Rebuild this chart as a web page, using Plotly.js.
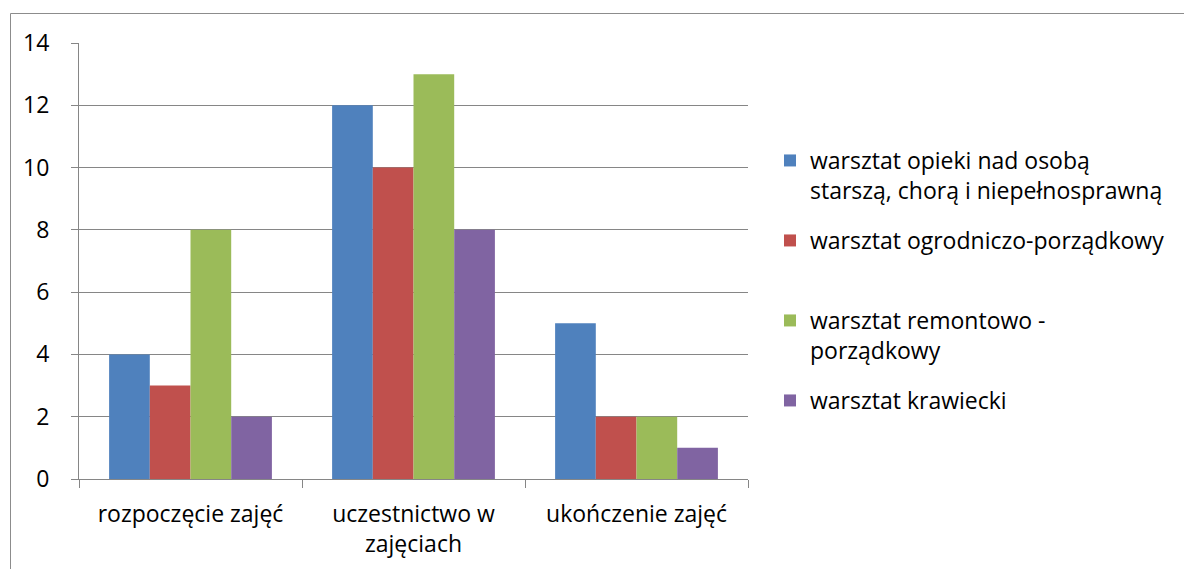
<!DOCTYPE html>
<html>
<head>
<meta charset="utf-8">
<script src="https://cdn.plot.ly/plotly-3.0.1.min.js"></script>
<style>html,body{margin:0;padding:0;background:#fff;}#chart{width:1184px;height:569px;}</style>
</head>
<body>
<div id="chart"></div>
<script>
const categories = ['rozpoczęcie zajęć', 'uczestnictwo w zajęciach', 'ukończenie zajęć'];
const categoryLabels = ['rozpoczęcie zajęć', 'uczestnictwo w<br>zajęciach', 'ukończenie zajęć'];
const seriesNames = [
  'warsztat opieki nad osobą<br>starszą, chorą i niepełnosprawną',
  'warsztat ogrodniczo-porządkowy',
  'warsztat remontowo -<br>porządkowy',
  'warsztat krawiecki'
];
const opiekiValues = [4, 12, 5];
const ogrodniczoValues = [3, 10, 2];
const remontowoValues = [8, 13, 2];
const krawieckiValues = [2, 8, 1];
const yTicks = [0, 2, 4, 6, 8, 10, 12, 14];

const seriesValues = [opiekiValues, ogrodniczoValues, remontowoValues, krawieckiValues];
const colors = ['#4F81BD', '#C0504D', '#9BBB59', '#8064A2'];
const legendIds = ['legend', 'legend2', 'legend3', 'legend4'];

const FONT = 'Open Sans, Liberation Sans, sans-serif';
const FS = 23;
const grid = '#868686';

const traces = seriesValues.map((vals, i) => ({
  type: 'bar',
  name: seriesNames[i],
  x: categories,
  y: vals,
  marker: {color: colors[i], line: {width: 0}},
  legend: legendIds[i],
  hoverinfo: 'x+y+name'
}));

const L = 79, R = 748, T = 43, B = 479;
const W = 1184, H = 569;
const pw = R - L, ph = B - T;
function px2x(p) { return (p - L) / pw; }
function py2y(p) { return (B - p) / ph; }
const legendTopPx = [139, 219, 299, 379];

const layout = {
  width: W, height: H,
  margin: {l: L, r: W - R, t: T, b: H - B, pad: 0},
  paper_bgcolor: '#fff', plot_bgcolor: '#fff',
  font: {family: FONT, size: FS, color: '#000'},
  barmode: 'group',
  bargap: 0.27,
  bargroupgap: 0,
  xaxis: {
    type: 'category',
    tickmode: 'array',
    tickvals: categories,
    ticktext: categoryLabels,
    tickson: 'boundaries',
    ticks: 'outside', ticklen: 8, tickcolor: grid, tickwidth: 1,
    showline: true, linecolor: grid, linewidth: 1,
    showgrid: false, zeroline: false,
    tickfont: {family: FONT, size: FS, color: '#000'},
    ticklabelstandoff: 14
  },
  yaxis: {
    range: [0, 14],
    tickmode: 'array', tickvals: yTicks,
    ticks: 'outside', ticklen: 7, tickcolor: grid, tickwidth: 1,
    showline: true, linecolor: grid, linewidth: 1,
    showgrid: true, gridcolor: grid, gridwidth: 1,
    zeroline: false,
    tickfont: {family: FONT, size: FS, color: '#000'},
    ticklabelstandoff: 17
  },
  shapes: [{
    type: 'rect', xref: 'paper', yref: 'paper',
    x0: px2x(10.5), x1: px2x(1200), y0: py2y(13.5), y1: py2y(600),
    line: {color: '#8c8c8c', width: 1}, fillcolor: 'rgba(0,0,0,0)', layer: 'below'
  }],
  showlegend: true
};

legendIds.forEach((id, i) => {
  layout[id] = {
    x: px2x(770), xanchor: 'left',
    y: py2y(legendTopPx[i]), yanchor: 'top',
    bgcolor: 'rgba(0,0,0,0)',
    borderwidth: 0,
    font: {family: FONT, size: FS, color: '#000'},
    valign: 'top',
    itemclick: false, itemdoubleclick: false
  };
});

Plotly.newPlot('chart', traces, layout, {displayModeBar: false, staticPlot: true});
</script>
</body>
</html>
